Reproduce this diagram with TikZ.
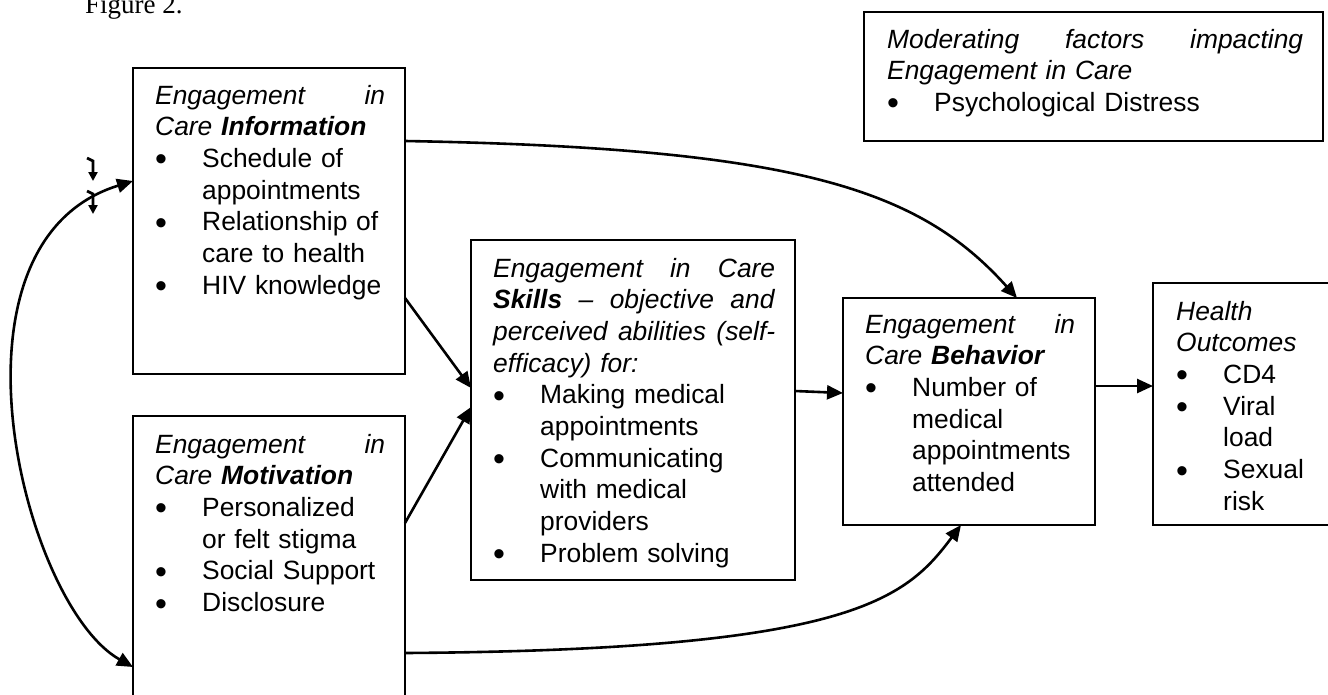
\documentclass[tikz,border=0pt]{standalone}
\usepackage{fontspec}
\setmainfont{Liberation Sans}
\newfontfamily\captionfont{Liberation Serif}
\usepackage{tikz}
\usetikzlibrary{
  arrows.meta,
  positioning
}

\newcommand{\boxfont}{\fontsize{26.4}{31.7}\selectfont}
\newcommand{\bitem}{\makebox[47pt][l]{\raisebox{-3.5pt}{\fontsize{34}{0}\selectfont\textbullet}}}
\newcommand{\bcont}{\hspace*{47pt}}

\begin{document}
\begin{tikzpicture}[
  x=1pt, y=-1pt,
  >={Triangle[length=16pt, width=14pt]},
  frame/.style={
    rectangle, draw, line width=2pt,
    inner sep=0pt, outer sep=0pt, anchor=north west
  },
  boxtext/.style={
    anchor=base west, inner sep=0pt,
    align=left, text width=#1, font=\boxfont
  },
  link/.style={line width=2.6pt, ->},
  hookmark/.style={line width=2.8pt, -{Triangle[length=9pt, width=9pt]}}
]

\useasboundingbox (0,0) rectangle (1328,694);

\node[anchor=base west, inner sep=0pt, font=\captionfont\fontsize{27}{30}\selectfont]
  (figlabel) at (85,13) {Figure 2.};

% Boxes
\node[frame, minimum width=272pt, minimum height=306pt] (info) at (133,68) {};
\node[frame, minimum width=272pt, minimum height=306pt, below=42pt of info] (motiv) {};
\node[frame, minimum width=324pt, minimum height=340pt] (skills) at (471,240) {};
\node[frame, minimum width=252pt, minimum height=227pt] (behavior) at (843,298) {};
\node[frame, minimum width=200pt, minimum height=242pt] (health) at (1153,283) {};
\node[frame, minimum width=459pt, minimum height=129pt] (moderating) at (864,12) {};

% Box contents
\node[boxtext=230pt] (infotext) at ([shift={(22,36)}]info.north west) {%
  \textit{Engagement\hfill in}\\
  \textit{Care \textbf{Information}}\\
  \bitem Schedule of\\
  \bcont appointments\\
  \bitem Relationship of\\
  \bcont care to health\\
  \bitem HIV knowledge};

\node[boxtext=230pt] (motivtext) at ([shift={(22,37)}]motiv.north west) {%
  \textit{Engagement\hfill in}\\
  \textit{Care \textbf{Motivation}}\\
  \bitem Personalized\\
  \bcont or felt stigma\\
  \bitem Social Support\\
  \bitem Disclosure};

\node[boxtext=282pt] (skillstext) at ([shift={(22,37)}]skills.north west) {%
  \textit{Engagement\hfill in\hfill Care}\\
  \textit{\textbf{Skills}\hfill –\hfill objective\hfill and}\\
  \textit{perceived\hfill abilities\hfill (self-}\\
  \textit{efficacy) for:}\\
  \bitem Making medical\\
  \bcont appointments\\
  \bitem Communicating\\
  \bcont with medical\\
  \bcont providers\\
  \bitem Problem solving};

\node[boxtext=210pt] (behaviortext) at ([shift={(22,35)}]behavior.north west) {%
  \textit{Engagement\hfill in}\\
  \textit{Care \textbf{Behavior}}\\
  \bitem Number of\\
  \bcont medical\\
  \bcont appointments\\
  \bcont attended};

\node[boxtext=150pt] (healthtext) at ([shift={(23,37)}]health.north west) {%
  \textit{Health}\\
  \textit{Outcomes}\\
  \bitem CD4\\
  \bitem Viral\\
  \bcont load\\
  \bitem Sexual\\
  \bcont risk};

\node[boxtext=416pt] (moderatingtext) at ([shift={(23,36)}]moderating.north west) {%
  \textit{Moderating\hfill factors\hfill impacting}\\
  \textit{Engagement in Care}\\
  \bitem Psychological Distress};

% Paths between boxes
\draw[link] (info.east |- 0,298) -- (skills.west |- 0,388);
\draw[link] (motiv.east |- 0,523) -- (skills.west |- 0,407);
\draw[link] (skills.east |- 0,391) -- (behavior.west |- 0,393);
\draw[link] (behavior.east |- 0,386) -- (health.west |- 0,386);
\draw[link] (info.east |- 0,141)
  .. controls +(395,7) and +(-97,-108) .. (behavior.north -| 1017,0);
\draw[link] (motiv.east |- 0,653)
  .. controls +(445,-3) and +(-56,75) .. (behavior.south -| 961,0);
\draw[link, <->] (info.west |- 0,181)
  .. controls +(-200,62) and +(-110,-62) .. (motiv.west |- 0,667);

% Small marks beside the loop
\draw[hookmark] (87,158) -- (93,161) -- (93,181);
\draw[hookmark] (87,191) -- (93,194) -- (93,214);

\end{tikzpicture}
\end{document}
